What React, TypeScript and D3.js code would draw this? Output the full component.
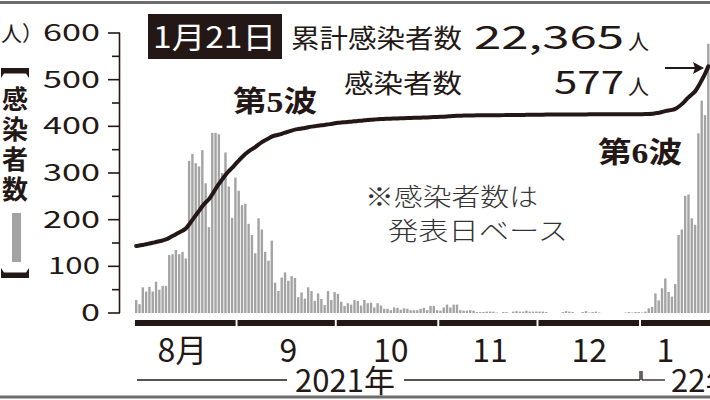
import React from "react";
import * as d3 from "d3";

// ---- data ----
const augCases = [28, 19, 55, 46, 56, 46, 67, 50, 58, 58, 124, 126, 135, 126, 131, 117, 326, 341, 321, 314, 349, 278, 184, 386, 386, 383, 300, 344, 271, 204, 290];
const sepCases = [262, 231, 234, 191, 167, 128, 203, 179, 131, 112, 155, 65, 47, 76, 87, 69, 79, 75, 34, 44, 31, 55, 47, 26, 42, 30, 17, 47, 28, 45];
const octCases = [41, 24, 15, 21, 18, 28, 26, 16, 28, 21, 22, 12, 21, 16, 9, 9, 6, 12, 11, 7, 10, 9, 6, 6, 6, 9, 11, 6, 15, 15, 6];
const novCases = [5, 12, 18, 12, 18, 18, 6, 5, 5, 6, 5, 2, 2, 2, 3, 3, 3, 1, 0, 2, 2, 0, 3, 4, 3, 3, 5, 3, 3, 3];
const decCases = [3, 3, 2, 0, 0, 0, 0, 2, 4, 3, 2, 0, 0, 2, 4, 1, 2, 3, 1, 0, 0, 0, 0, 0, 0, 0, 1, 2, 1, 2, 2];
const janCases = [1, 3, 10, 13, 42, 27, 53, 74, 45, 35, 62, 167, 179, 251, 254, 203, 189, 385, 455, 424, 577];

const monthLabels = ["8月", "9", "10", "11", "12", "1"];
const monthLabelDay = [15, 16, 17, 16, 16, 8];
const yTickValues = [0, 100, 200, 300, 400, 500, 600];
const yMinorValues = [50, 150, 250, 350, 450, 550];
const cumDomain = [4600, 24760];
const cumulativeTotal = 22365;
const latestDaily = 577;
const reportDate = "1月21日";
const cumLabel = "累計感染者数";
const dailyLabel = "感染者数";
const waveLabels = ["第5波", "第6波"];
const noteLines = ["※感染者数は", "発表日ベース"];
const yearLabels = ["2021年", "22年"];
const axisTitleChars = ["感", "染", "者", "数"];

const W = 710;
const H = 400;
const JP = "'Noto Sans CJK JP', 'Noto Sans', sans-serif";
const SERIF = "'Liberation Serif', 'DejaVu Serif', 'Noto Sans CJK JP', serif";
const INK = "#231815";
const BAR = "#a3a3a3";

const digitWidth = (s: string) => s.split("").reduce((a, c) => a + (c === "1" ? 14 : 19), 0);

export default function App() {
  const months = [augCases, sepCases, octCases, novCases, decCases, janCases];
  const daily = months.flat();
  const n = daily.length;
  const monthStart = months.map((_, i) => d3.sum(months.slice(0, i), (m) => m.length));

  const x = d3.scaleBand<number>().domain(d3.range(n)).range([135, 709.5]).paddingInner(0.28);
  const bw = x.bandwidth();
  const y = d3.scaleLinear().domain([0, 600]).range([313, 33]);

  const base = cumulativeTotal - d3.sum(daily);
  const cum = Array.from(d3.cumsum(daily)).map((v) => v + base);
  const yc = d3.scaleLinear().domain(cumDomain).range([313, 33]);
  const linePath = d3
    .line<number>()
    .x((_, i) => (x(i) as number) + bw / 2)
    .y((d) => yc(d))
    .curve(d3.curveBasis)(cum) as string;

  const segs = months.map((m, i) => {
    const s = monthStart[i];
    const x0 = x(s) as number;
    const x1 = i === months.length - 1 ? W + 2 : (x(s + m.length - 1) as number) + bw - 1;
    return { x0, x1 };
  });

  const dec = 4;
  const decEnd = (x(monthStart[dec] + months[dec].length - 1) as number) + bw;
  const janStart = x(monthStart[5]) as number;
  const yearY = 380;

  return (
    <svg width={W} height={H} style={{ position: "absolute", left: 0, top: 0, display: "block", background: "#fff" }}>
      {/* frame lines */}
      <rect x={0} y={1} width={W} height={3} fill="#6d6d6d" />
      <rect x={0} y={395.5} width={W} height={3} fill="#6d6d6d" />

      {/* bars */}
      {daily.map((v, i) => (
        <rect key={i} x={x(i)} y={y(v)} width={bw} height={y(0) - y(v)} fill={BAR} />
      ))}

      {/* cumulative line */}
      <path d={linePath} fill="none" stroke={INK} strokeWidth={4} strokeLinecap="round" />

      {/* y axis */}
      <line x1={119.5} x2={119.5} y1={y(600)} y2={y(0)} stroke={INK} strokeWidth={1.6} />
      {yTickValues.map((v) => {
        const s = String(v);
        const w = digitWidth(s);
        return (
          <g key={v}>
            <line x1={108} x2={120} y1={y(v)} y2={y(v)} stroke={INK} strokeWidth={1.6} />
            <text
              x={100 - w}
              y={y(v) + 8}
              fontFamily={JP}
              fontSize={23}
              fill={INK}
              textLength={w}
              lengthAdjust="spacingAndGlyphs"
            >
              {s}
            </text>
          </g>
        );
      })}
      {yMinorValues.map((v) => (
        <line key={v} x1={112} x2={120} y1={y(v)} y2={y(v)} stroke={INK} strokeWidth={1.6} />
      ))}
      <text x={43} y={y(600) + 8} textAnchor="end" fontFamily={JP} fontSize={21} fill={INK}>
        （人）
      </text>

      {/* vertical axis title */}
      <path d="M1,68 L29,68 L29,78 L26,73.5 L4,73.5 L1,78 Z" fill={INK} />
      {axisTitleChars.map((c, i) => (
        <text key={c} x={15} y={97 + i * 30} textAnchor="middle" dominantBaseline="central" fontFamily={JP} fontWeight={700} fontSize={26} fill={INK}>
          {c}
        </text>
      ))}
      <rect x={12} y={213} width={9} height={49} fill={BAR} />
      <path d="M1,278 L29,278 L29,268 L26,272.5 L4,272.5 L1,268 Z" fill={INK} />

      {/* month bar + labels */}
      {segs.map((s, i) => (
        <rect key={i} x={s.x0} y={320} width={s.x1 - s.x0} height={6} fill={INK} />
      ))}
      {monthLabels.map((m, i) => (
        <text
          key={m}
          x={(x(monthStart[i] + monthLabelDay[i] - 1) as number) + bw / 2}
          y={362}
          textAnchor="middle"
          fontFamily={JP}
          fontSize={32}
          fill={INK}
        >
          {m}
        </text>
      ))}

      {/* year bracket */}
      <line x1={137} x2={287} y1={yearY} y2={yearY} stroke={INK} strokeWidth={1.3} />
      <text x={345} y={392} textAnchor="middle" fontFamily={JP} fontSize={31} fill={INK}>
        {yearLabels[0]}
      </text>
      <line x1={404} x2={decEnd} y1={yearY} y2={yearY} stroke={INK} strokeWidth={1.3} />
      <line x1={decEnd} x2={decEnd} y1={yearY} y2={yearY - 9} stroke={INK} strokeWidth={1.3} />
      <line x1={janStart + 1} x2={janStart + 1} y1={yearY - 9} y2={yearY} stroke={INK} strokeWidth={1.3} />
      <line x1={janStart + 1} x2={janStart + 24} y1={yearY} y2={yearY} stroke={INK} strokeWidth={1.3} />
      <text x={janStart + 30} y={392} fontFamily={JP} fontSize={31} fill={INK}>
        {yearLabels[1]}
      </text>

      {/* headline */}
      <rect x={148} y={14} width={134} height={45} fill={INK} />
      <text x={153} y={48} fontFamily={JP} fontSize={30} fill="#fff" textLength={123} lengthAdjust="spacingAndGlyphs">
        {reportDate}
      </text>
      <text x={291} y={48} fontFamily={JP} fontSize={26} fill={INK} textLength={171} lengthAdjust="spacingAndGlyphs">
        {cumLabel}
      </text>
      <text x={474} y={49} fontFamily={JP} fontSize={32} fill={INK} textLength={150} lengthAdjust="spacingAndGlyphs">
        {d3.format(",")(cumulativeTotal)}
      </text>
      <text x={628} y={49} fontFamily={JP} fontSize={21} fill={INK}>
        人
      </text>
      <text x={344} y={93} fontFamily={JP} fontSize={26} fill={INK} textLength={118} lengthAdjust="spacingAndGlyphs">
        {dailyLabel}
      </text>
      <text x={554} y={94} fontFamily={JP} fontSize={32} fill={INK} textLength={70} lengthAdjust="spacingAndGlyphs">
        {latestDaily}
      </text>
      <text x={628} y={94} fontFamily={JP} fontSize={21} fill={INK}>
        人
      </text>
      {/* arrow */}
      <line x1={665} x2={700} y1={68} y2={68} stroke={INK} strokeWidth={2} />
      <path d="M704,68 L693,62 L695,68 L693,74 Z" fill={INK} />

      {/* wave labels */}
      <text x={233} y={112} fontFamily={SERIF} fontWeight={700} fontSize={29} fill={INK} textLength={84} lengthAdjust="spacingAndGlyphs">
        {waveLabels[0]}
      </text>
      <text x={598} y={163} fontFamily={SERIF} fontWeight={700} fontSize={29} fill={INK} textLength={84} lengthAdjust="spacingAndGlyphs">
        {waveLabels[1]}
      </text>

      {/* note */}
      <text x={365} y={206} fontFamily={JP} fontWeight={300} fontSize={25} fill="#333" textLength={173} lengthAdjust="spacingAndGlyphs">
        {noteLines[0]}
      </text>
      <text x={388} y={240} fontFamily={JP} fontWeight={300} fontSize={25} fill="#333" textLength={180} lengthAdjust="spacingAndGlyphs">
        {noteLines[1]}
      </text>
    </svg>
  );
}
